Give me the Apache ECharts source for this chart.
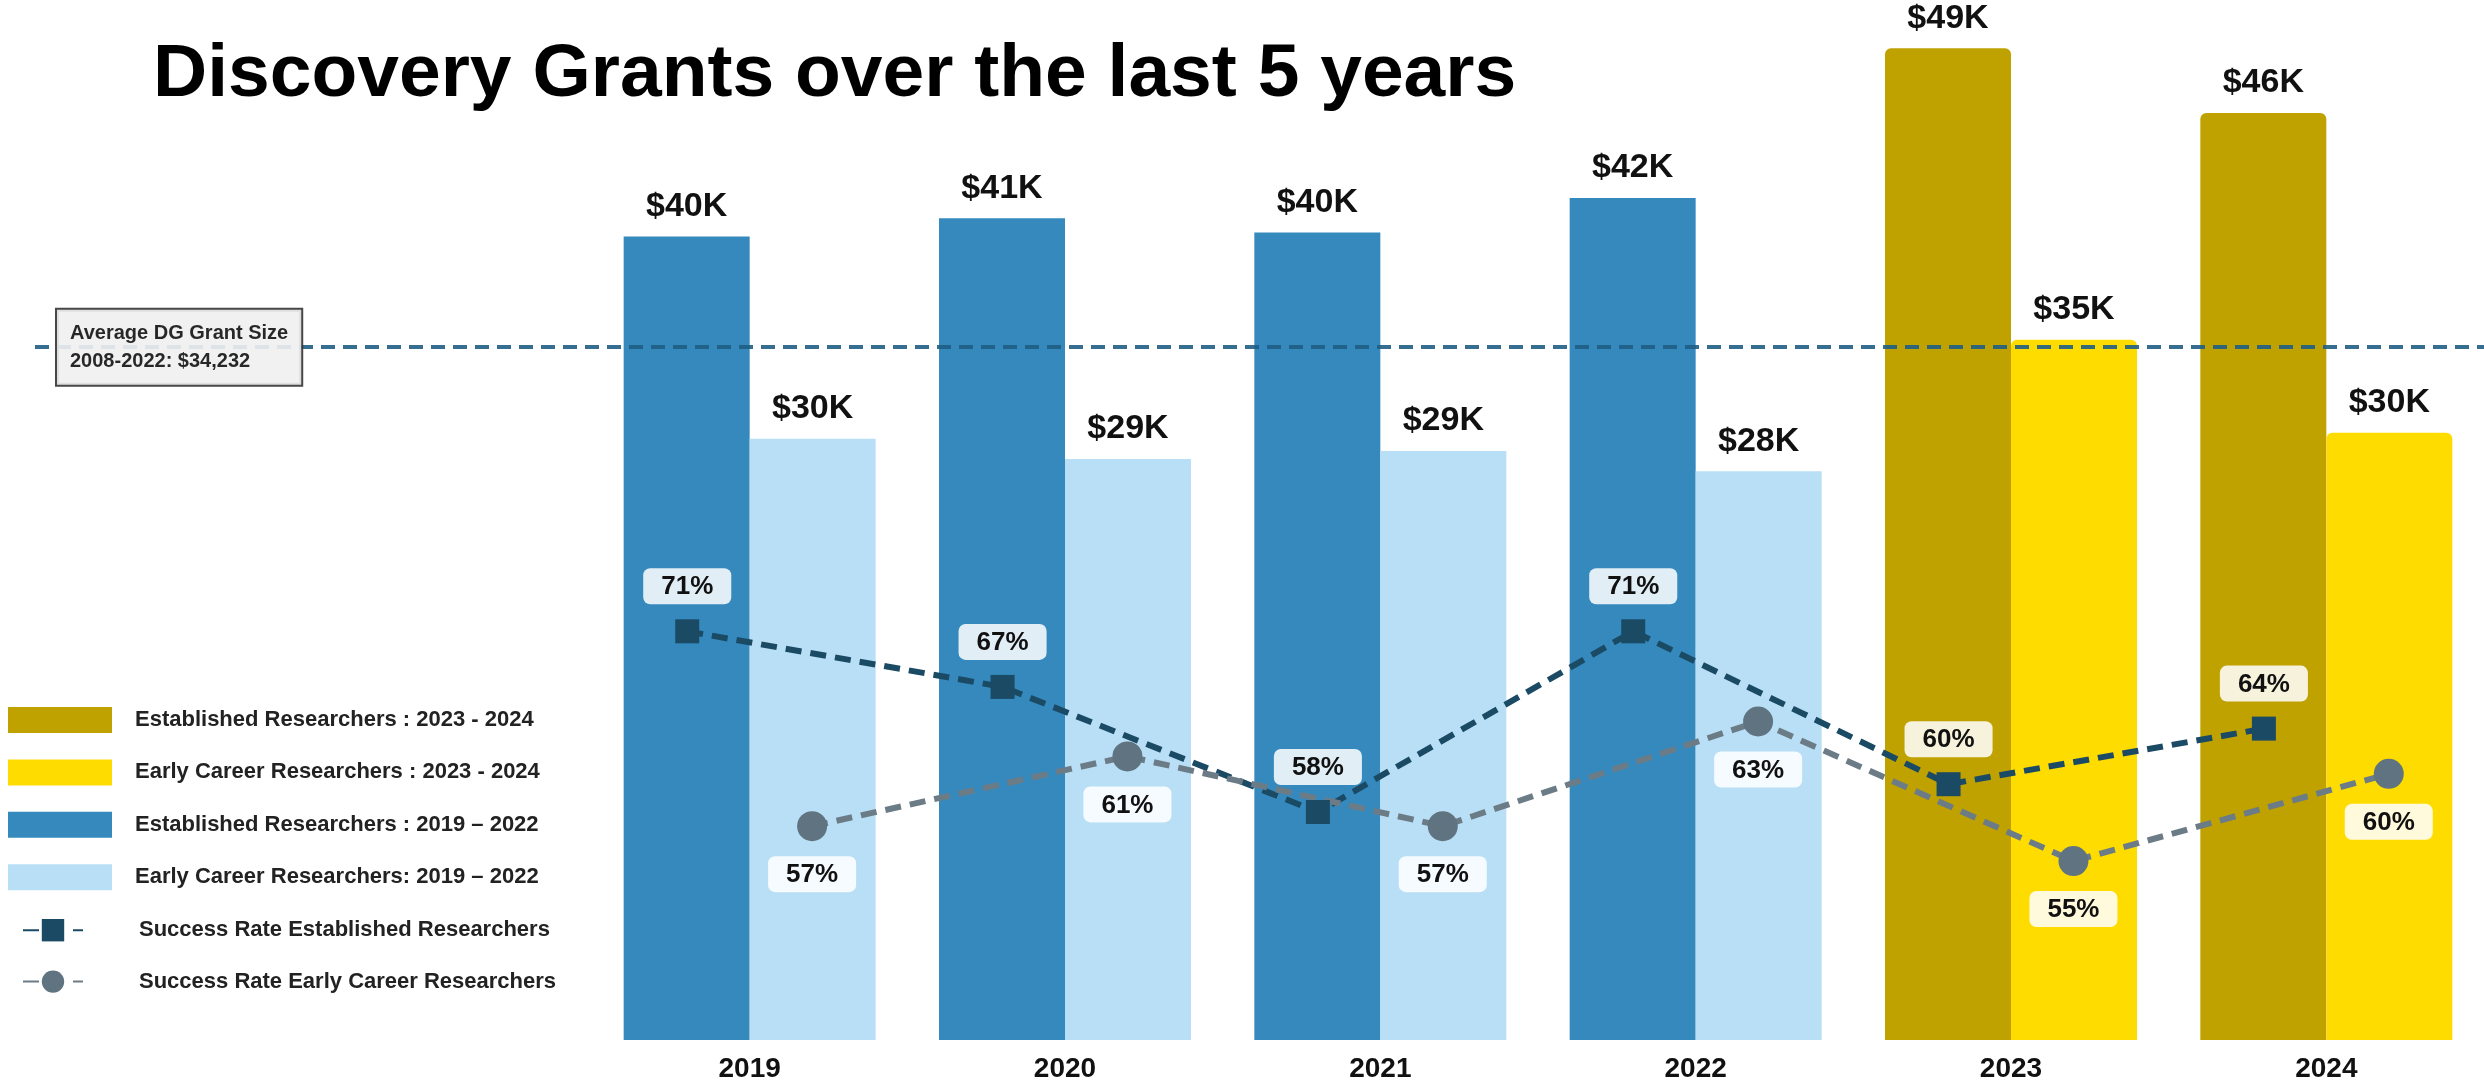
<!DOCTYPE html>
<html lang="en">
<head>
<meta charset="UTF-8">
<title>Discovery Grants over the last 5 years</title>
<script src="https://cdn.jsdelivr.net/npm/echarts@6/dist/echarts.min.js"></script>
<style>
  html, body { margin: 0; padding: 0; background: #fff; }
  #main { width: 2484px; height: 1086px; }
</style>
</head>
<body>
<div id="main"></div>
<script>
// data (grant sizes in $K, success rates in %)
const years = ['2019', '2020', '2021', '2022', '2023', '2024'];
const established1922 = [39.7, 40.6, 39.9, 41.6, '-', '-'];
const earlyCareer1922 = [29.7, 28.7, 29.1, 28.1, '-', '-'];
const established2324 = ['-', '-', '-', '-', 49.0, 45.8];
const earlyCareer2324 = ['-', '-', '-', '-', 34.6, 30.0];
const rateEstablished = [71, 67, 58, 71, 60, 64];
const rateEarlyCareer = [57, 61, 57, 63, 55, 60];
const avgGrant = 34.232;

const names = {
  est2324: 'Established Researchers : 2023 - 2024',
  early2324: 'Early Career Researchers : 2023 - 2024',
  est1922: 'Established Researchers : 2019 \u2013 2022',
  early1922: 'Early Career Researchers: 2019 \u2013 2022',
  rateEst: 'Success Rate Established Researchers',
  rateEarly: 'Success Rate Early Career Researchers'
};

const FONT = '"Liberation Sans", Arial, sans-serif';
const barOffset = 0.198; // half a bar, in category units

let chart = echarts.init(document.getElementById('main'));

function barLabel() {
  return {
    show: true,
    position: 'top',
    distance: 13,
    fontSize: 34,
    fontWeight: 'bold',
    color: '#111',
    formatter: p => '$' + Math.round(p.value) + 'K'
  };
}

function rateLabel(pos) {
  return {
    show: true,
    position: pos,
    distance: 15,
    fontSize: 26,
    fontWeight: 'bold',
    color: '#111',
    backgroundColor: 'rgba(255,255,255,0.86)',
    borderRadius: 7,
    padding: [6, 18, 4, 18],
    formatter: p => p.value[1] + '%'
  };
}

let option = {
  animation: false,
  backgroundColor: '#fff',
  textStyle: { fontFamily: FONT },
  title: {
    text: 'Discovery Grants over the last 5 years',
    left: 153,
    top: 38,
    padding: 0,
    textStyle: { fontSize: 75, fontWeight: 'bold', color: '#000', fontFamily: FONT }
  },
  legend: [
    {
      orient: 'vertical',
      left: 8,
      top: 707,
      padding: 0,
      icon: 'rect',
      itemWidth: 104,
      itemHeight: 26,
      itemGap: 26.4,
      textStyle: { fontSize: 22, fontWeight: 'bold', color: '#222', padding: [0, 0, 0, 18] },
      data: [names.est2324, names.early2324, names.est1922, names.early1922]
    },
    {
      orient: 'vertical',
      left: 22,
      top: 919,
      padding: 0,
      icon: 'inherit',
      itemWidth: 60,
      itemHeight: 28,
      itemGap: 29,
      textStyle: { fontSize: 22, fontWeight: 'bold', color: '#222', padding: [0, 0, 0, 51] },
      data: [names.rateEst, names.rateEarly]
    }
  ],
  grid: [
    { left: 592, width: 1907, top: 28, height: 1012 },
    { left: 35, right: 0, top: 28, height: 1012 }
  ],
  xAxis: [
    {
      type: 'category',
      gridIndex: 0,
      data: years,
      axisLine: { show: false },
      axisTick: { show: false },
      axisLabel: { fontSize: 28, fontWeight: 'bold', color: '#111', margin: 15 }
    },
    { type: 'value', gridIndex: 0, min: -0.5, max: 5.5, show: false },
    { type: 'value', gridIndex: 1, min: 0, max: 1, show: false }
  ],
  yAxis: [
    { type: 'value', gridIndex: 0, min: 0, max: 50, show: false },
    { type: 'value', gridIndex: 0, min: 41.6, max: 114.4, show: false },
    { type: 'value', gridIndex: 0, min: 44.74, max: 102.76, show: false },
    { type: 'value', gridIndex: 1, min: 0, max: 50, show: false }
  ],
  series: [
    {
      name: names.est1922, type: 'bar', stack: 'est', barWidth: 126, barGap: '0%',
      xAxisIndex: 0, yAxisIndex: 0,
      itemStyle: { color: '#3589bd' },
      label: barLabel(),
      data: established1922
    },
    {
      name: names.est2324, type: 'bar', stack: 'est', barWidth: 126, barGap: '0%',
      xAxisIndex: 0, yAxisIndex: 0,
      itemStyle: { color: '#bfa100', borderRadius: [6, 6, 0, 0] },
      label: barLabel(),
      data: established2324
    },
    {
      name: names.early1922, type: 'bar', stack: 'early', barWidth: 126, barGap: '0%',
      xAxisIndex: 0, yAxisIndex: 0,
      itemStyle: { color: '#b8dff5' },
      label: barLabel(),
      data: earlyCareer1922
    },
    {
      name: names.early2324, type: 'bar', stack: 'early', barWidth: 126, barGap: '0%',
      xAxisIndex: 0, yAxisIndex: 0,
      itemStyle: { color: '#ffdc00', borderRadius: [6, 6, 0, 0] },
      label: barLabel(),
      data: earlyCareer2324
    },
    {
      name: 'avg', type: 'line', xAxisIndex: 2, yAxisIndex: 3, data: [],
      z: 5,
      markLine: {
        silent: true,
        symbol: ['none', 'none'],
        lineStyle: { color: '#1f5e85', width: 4, type: [14, 8], opacity: 0.9 },
        label: {
          show: true,
          position: 'insideStartTop',
          distance: [22, 0],
          verticalAlign: 'middle',
          align: 'left',
          formatter: 'Average DG Grant Size\n2008-2022: $34,232',
          fontFamily: FONT,
          fontSize: 20,
          fontWeight: 'bold',
          lineHeight: 28,
          color: '#111',
          backgroundColor: '#f0f0f0',
          borderColor: '#333',
          borderWidth: 2,
          padding: [10, 13, 9, 13]
        },
        data: [{ yAxis: avgGrant }]
      }
    },
    {
      name: names.rateEst, type: 'line', xAxisIndex: 1, yAxisIndex: 1, z: 10,
      symbol: 'rect', symbolSize: 24,
      itemStyle: { color: '#1b4a65' },
      lineStyle: { color: '#1b4a65', width: 6, type: [16, 9] },
      label: rateLabel('top'),
      data: rateEstablished.map((v, i) => [i - barOffset, v])
    },
    {
      name: names.rateEarly, type: 'line', xAxisIndex: 1, yAxisIndex: 2, z: 10,
      symbol: 'circle', symbolSize: 30,
      itemStyle: { color: '#5f7381' },
      lineStyle: { color: '#6c7c87', width: 6, type: [16, 9] },
      label: rateLabel('bottom'),
      data: rateEarlyCareer.map((v, i) => [i + barOffset, v])
    }
  ]
};

chart.setOption(option);
</script>
</body>
</html>
